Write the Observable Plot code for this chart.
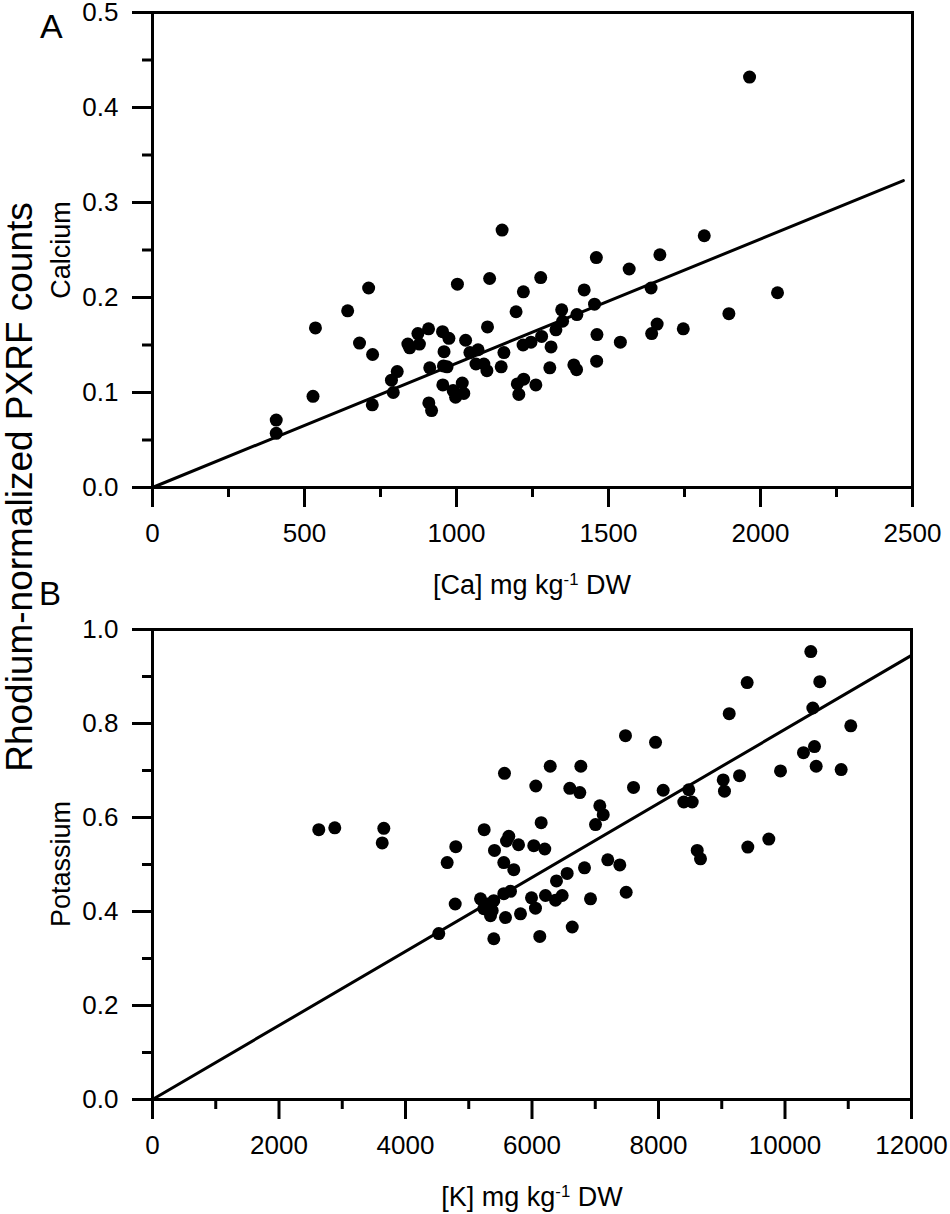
<!DOCTYPE html>
<html>
<head>
<meta charset="utf-8">
<script src="https://cdn.jsdelivr.net/npm/d3@7"></script>
<script src="https://cdn.jsdelivr.net/npm/@observablehq/plot@0.6"></script>
<style>
  html, body { margin: 0; padding: 0; background: #fff; }
  #wrap { position: relative; width: 950px; height: 1214px; overflow: hidden; font-family: "Liberation Sans", Arial, sans-serif; color: #000; }
  #wrap svg { display: block; }
  #pa { position: absolute; left: 0; top: -20px; }
  #pb { position: absolute; left: 0; top: 607px; }
  .t { position: absolute; line-height: 1; white-space: nowrap; }
  .rot { writing-mode: vertical-rl; transform: translate(-50%, -50%) rotate(180deg); }
  .ctr { transform: translateX(-50%); }
  sup { font-size: 0.62em; vertical-align: 0; position: relative; top: -0.55em; }
</style>
</head>
<body>
<div id="wrap">
  <div id="pa"></div>
  <div id="pb"></div>
  <div class="t" style="left:40px; top:9px; font-size:34px;">A</div>
  <div class="t" style="left:39px; top:577px; font-size:33px;">B</div>
  <div class="t rot" style="left:61px; top:250px; font-size:27px;">Calcium</div>
  <div class="t rot" style="left:61px; top:864px; font-size:27px;">Potassium</div>
  <div class="t rot" style="left:18.5px; top:487px; font-size:37px;">Rhodium-normalized PXRF counts</div>
  <div class="t ctr" style="left:532px; top:572px; font-size:27px;">[Ca] mg kg<sup>-1</sup> DW</div>
  <div class="t ctr" style="left:532px; top:1184px; font-size:27px;">[K] mg kg<sup>-1</sup> DW</div>
</div>
<script>
// Panel A: calcium
const caX = [407,407,528,536,642,711,681,724,723,786,792,805,840,846,873,878,908,912,909,918,954,975,959,957,969,955,989,997,1019,1024,1003,1030,1044,1071,1064,1100,1090,1102,1109,1150,1147,1156,1277,1220,1460,1568,1669,1815,1420,1454,1640,2056,1896,1746,1660,1642,1539,1462,1461,1386,1395,1307,1261,1221,1200,1205,1196,1219,1245,1280,1311,1327,1346,1349,1396,1964];
const caY = [0.071,0.057,0.096,0.168,0.186,0.210,0.152,0.140,0.087,0.113,0.100,0.122,0.151,0.147,0.162,0.151,0.167,0.126,0.089,0.081,0.164,0.157,0.143,0.128,0.127,0.108,0.102,0.095,0.110,0.099,0.214,0.155,0.142,0.145,0.130,0.123,0.130,0.169,0.220,0.271,0.127,0.142,0.221,0.206,0.242,0.230,0.245,0.265,0.208,0.193,0.210,0.205,0.183,0.167,0.172,0.162,0.153,0.161,0.133,0.129,0.124,0.126,0.108,0.114,0.109,0.098,0.185,0.150,0.153,0.159,0.148,0.166,0.187,0.175,0.182,0.432];
const caFitX = [0, 2470];
const caFitY = [0, 0.323];
const caXTicks = [0, 500, 1000, 1500, 2000, 2500];
const caXMinor = [250, 750, 1250, 1750, 2250];
const caYTicks = [0.0, 0.1, 0.2, 0.3, 0.4, 0.5];
const caYMinor = [0.05, 0.15, 0.25, 0.35, 0.45];

// Panel B: potassium
const kX = [2629,2882,3657,3632,4795,4659,4786,4526,5244,5186,5292,5396,5554,5660,5238,5371,5344,5581,5818,5992,6055,6213,6372,6477,6636,6123,5396,6925,5554,5712,6556,6830,6387,7489,7198,7388,5407,6028,6202,5633,5597,5787,6145,7072,7126,7004,5565,6288,6772,6060,6598,6756,7605,8074,7478,7953,10408,10550,9402,9118,10440,11040,10466,10292,10493,10888,9929,9281,9023,9043,8479,8400,8533,9744,9412,8612,8664];
const kY = [0.574,0.578,0.577,0.546,0.538,0.504,0.416,0.353,0.574,0.427,0.416,0.423,0.438,0.443,0.406,0.402,0.391,0.387,0.395,0.429,0.407,0.434,0.424,0.434,0.367,0.347,0.342,0.427,0.504,0.489,0.481,0.493,0.465,0.441,0.510,0.499,0.530,0.540,0.533,0.560,0.550,0.542,0.589,0.625,0.606,0.585,0.694,0.709,0.709,0.667,0.662,0.653,0.664,0.658,0.774,0.760,0.953,0.889,0.887,0.821,0.833,0.795,0.751,0.738,0.709,0.702,0.699,0.689,0.680,0.656,0.659,0.633,0.633,0.554,0.537,0.530,0.512];
const kFitX = [0, 12000];
const kFitY = [0, 0.945];
const kXTicks = [0, 2000, 4000, 6000, 8000, 10000, 12000];
const kXMinor = [1000, 3000, 5000, 7000, 9000, 11000];
const kYTicks = [0.0, 0.2, 0.4, 0.6, 0.8, 1.0];
const kYMinor = [0.1, 0.3, 0.5, 0.7, 0.9];

const zip = (xs, ys) => xs.map((x, i) => ({x, y: ys[i]}));

function panel({pts, fit, xDom, yDom, xT, xM, yT, yM, yFmt, h, mTop, mBottom, mRight}) {
  return Plot.plot({
    width: 950,
    height: h,
    marginLeft: 152,
    marginRight: mRight,
    marginTop: mTop,
    marginBottom: mBottom,
    style: {fontFamily: "'Liberation Sans', Arial, sans-serif", fontSize: "26px", color: "#000", background: "transparent", overflow: "visible"},
    x: {domain: xDom},
    y: {domain: yDom},
    marks: [
      Plot.axisX({ticks: xT, tickSize: 20, tickPadding: 16, strokeWidth: 3, fontSize: 26, tickFormat: d => String(d), label: null}),
      Plot.axisX({ticks: xM, tickSize: 10, strokeWidth: 3, tickFormat: () => "", label: null}),
      Plot.axisY({ticks: yT, tickSize: 20, tickPadding: 14, strokeWidth: 3, fontSize: 26, tickFormat: yFmt, label: null}),
      Plot.axisY({ticks: yM, tickSize: 10, strokeWidth: 3, tickFormat: () => "", label: null}),
      Plot.line(fit, {x: "x", y: "y", stroke: "#000", strokeWidth: 3}),
      Plot.dot(pts, {x: "x", y: "y", r: 6.5, fill: "#000", stroke: "none"}),
      Plot.frame({stroke: "#000", strokeWidth: 3})
    ]
  });
}

document.getElementById("pa").append(panel({
  pts: zip(caX, caY), fit: zip(caFitX, caFitY),
  xDom: [0, 2500], yDom: [0, 0.5],
  xT: caXTicks, xM: caXMinor, yT: caYTicks, yM: caYMinor,
  yFmt: d3.format(".1f"),
  h: 627, mTop: 32, mBottom: 120, mRight: 38
}));
document.getElementById("pb").append(panel({
  pts: zip(kX, kY), fit: zip(kFitX, kFitY),
  xDom: [0, 12000], yDom: [0, 1.0],
  xT: kXTicks, xM: kXMinor, yT: kYTicks, yM: kYMinor,
  yFmt: d3.format(".1f"),
  h: 607, mTop: 22, mBottom: 115, mRight: 39
}));
</script>
</body>
</html>
